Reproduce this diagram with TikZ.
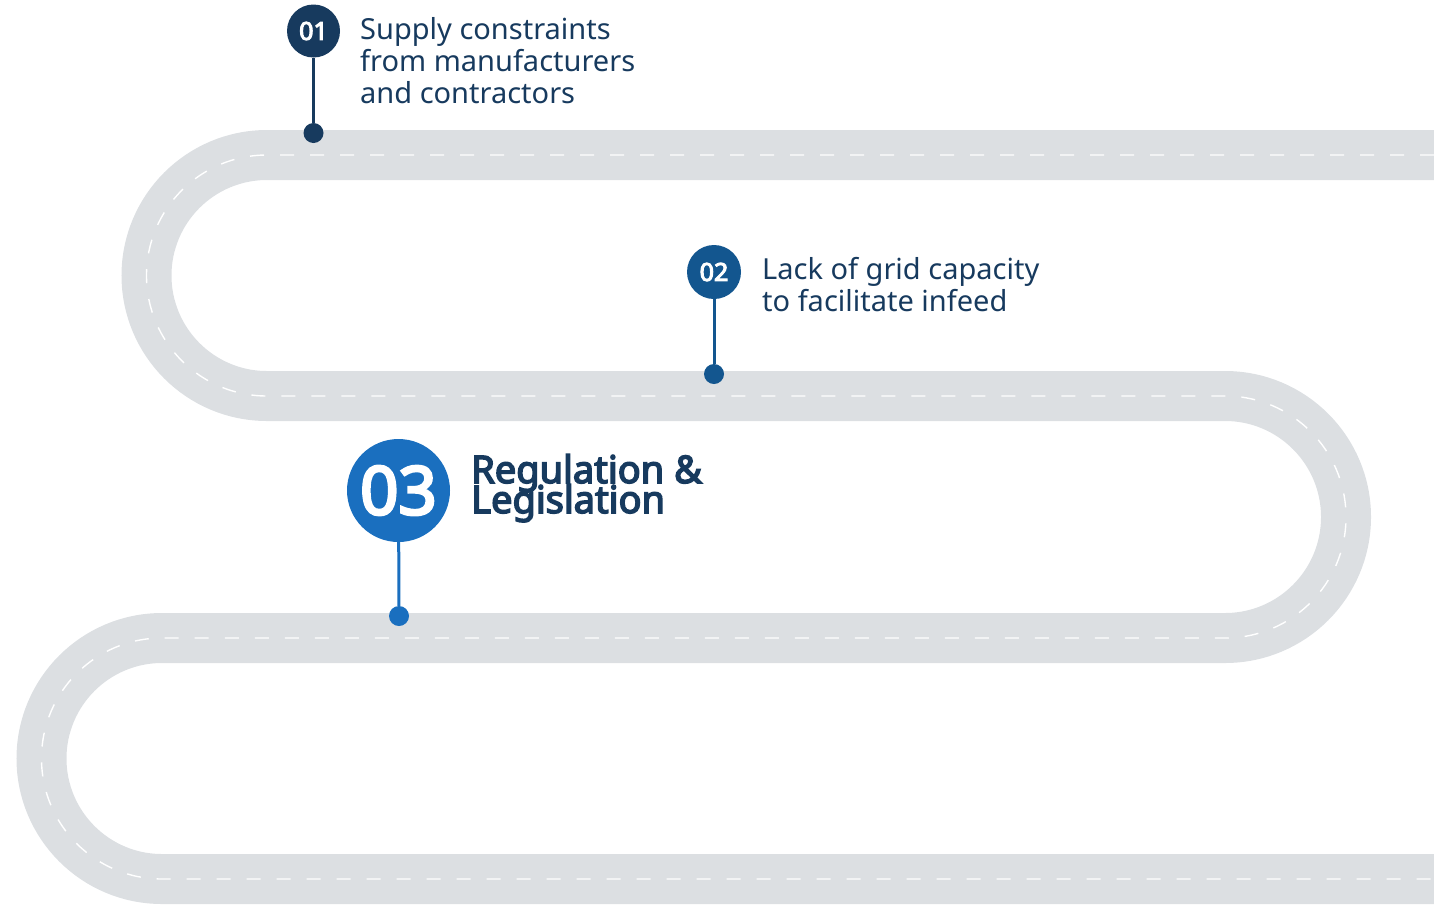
\documentclass[tikz,border=0pt]{standalone}
\usepackage{fontspec}
\setmainfont{Noto Sans}[BoldFont={Noto Sans}, BoldFeatures={FakeBold=4}]

\definecolor{roadgray}{HTML}{DCDFE2}
\definecolor{navy}{HTML}{173A5E}
\definecolor{midblue}{HTML}{13568F}
\definecolor{brightblue}{HTML}{1A6FBF}

\newcommand{\roadpath}{(1434,155) -- (267,155) arc(-90:-270:120.5) -- (1225,396) arc(-90:90:121)
	-- (162,638) arc(-90:-270:120.5) -- (1434,879)}

\tikzset{
	badge/.style={circle, fill=#1, text=white, inner sep=0pt},
	pin/.style={circle, fill=#1, minimum size=20pt, inner sep=0pt},
	label text/.style={anchor=base west, align=left, text=navy, inner sep=0pt},
}

\begin{document}
\begin{tikzpicture}[x=1pt, y=-1pt]
	\useasboundingbox (0,0) rectangle (1434,906);
	\draw[roadgray, line width=50pt] \roadpath;
	\draw[white, line width=1.4pt, dash pattern=on 14pt off 16pt] \roadpath;

	\draw
	(313.5,31) node[badge=navy, minimum size=53pt, font=\bfseries\fontsize{25}{25}\selectfont] (n1) {01}
	(313.5,133) node[pin=navy] (d1) {}
	(360,103) node[label text, font=\fontsize{29}{32}\selectfont] (t1) {Supply constraints\\from manufacturers\\and contractors}

	(714,272) node[badge=midblue, minimum size=54pt, font=\bfseries\fontsize{25}{25}\selectfont] (n2) {02}
	(714,374) node[pin=midblue] (d2) {}
	(762,311) node[label text, font=\fontsize{29}{32}\selectfont] (t2) {Lack of grid capacity\\to facilitate infeed}

	(398.5,490.5) node[badge=brightblue, minimum size=103pt, font=\bfseries\fontsize{67}{67}\selectfont] (n3) {03}
	(399,616) node[pin=brightblue] (d3) {}
	(471,513) node[label text, font={\bfseries\fontsize{38}{30}\selectfont\lineskiplimit-50pt\relax}] (t3) {Regulation \&\\Legislation}
	;
	\draw[navy, line width=3pt] (n1) -- (d1);
	\draw[midblue, line width=3pt] (n2) -- (d2);
	\draw[brightblue, line width=3pt] (n3) -- (d3);
\end{tikzpicture}
\end{document}
